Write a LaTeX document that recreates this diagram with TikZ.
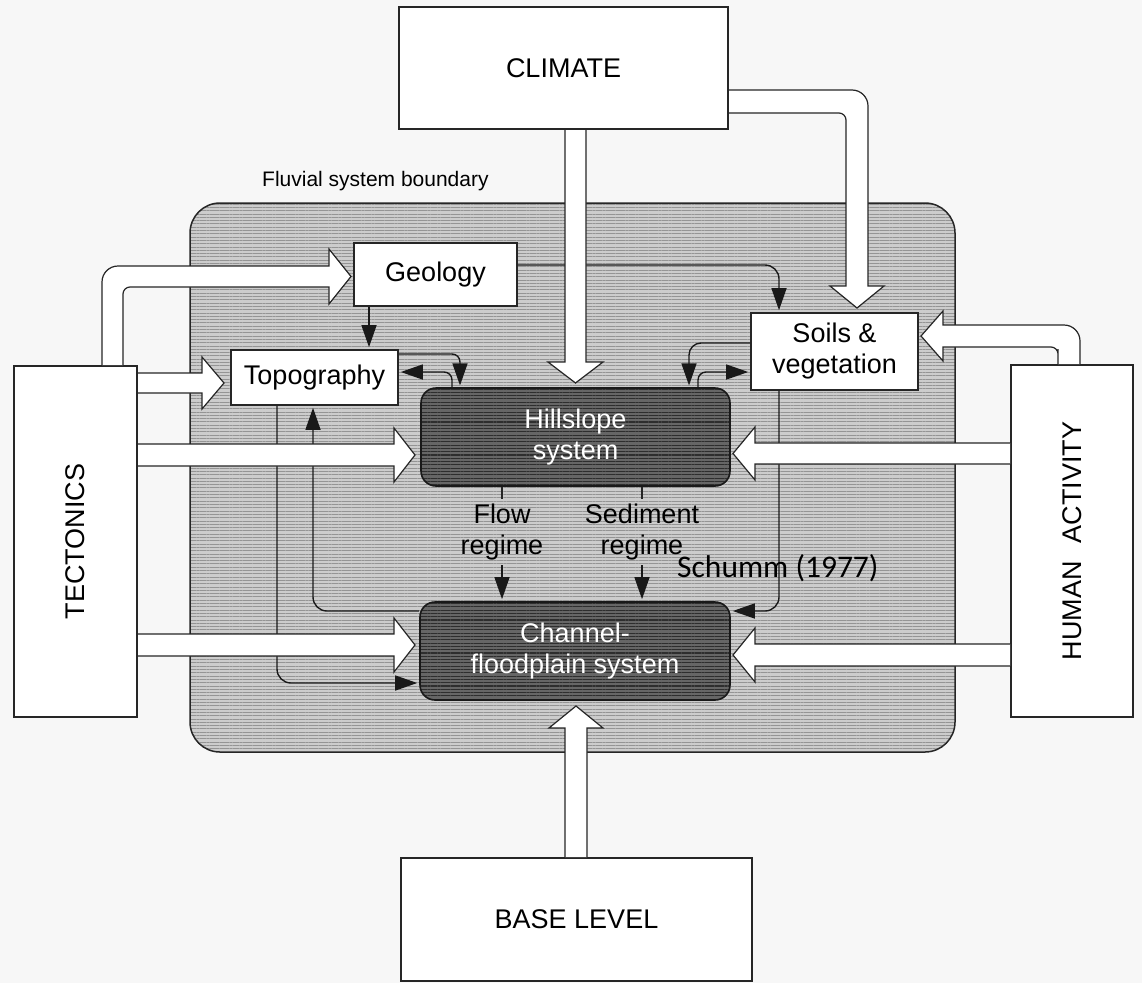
\documentclass[tikz,border=0pt]{standalone}
\usepackage{fontspec}
\setmainfont{Liberation Sans}
\newfontfamily\calibfont{Carlito}
\usetikzlibrary{arrows.meta,patterns.meta}
\begin{document}
\begin{tikzpicture}[x=1pt,y=-1pt,
  lbl/.style={font=\fontsize{27}{31}\selectfont, align=center, inner sep=0pt},
  box/.style={lbl, draw=black!85, line width=1.6pt, fill=white},
  sysbox/.style={lbl, draw=black!90, line width=1.6pt, rounded corners=15pt, text=white,
     preaction={fill=black!60}, pattern={Lines[angle=0,distance=3.3pt,line width=1.1pt]}, pattern color=black!82},
  boundary/.style={draw=black!85, line width=1.5pt, rounded corners=30pt, inner sep=0pt,
     preaction={fill=black!20}, pattern={Lines[angle=0,distance=3.3pt,line width=1pt]}, pattern color=black!42},
  conn/.style={draw=black!90, line width=1.4pt, -{Triangle[length=22pt,width=15pt]}, shorten >=2pt},
  plain/.style={draw=black!85, line width=1.3pt},
  fat/.style={draw=black!85, line width=1.2pt, fill=white, line join=miter},
]
\useasboundingbox (0,0) rectangle (1142,983);
\fill[black!3] (0,0) rectangle (1142,983);

% fluvial system boundary
\node[boundary, minimum width=765pt, minimum height=549pt] (fluv) at (572.5,477.5) {};
\node[lbl, font=\fontsize{21}{25}\selectfont, anchor=west] (fsb) at (262,181) {Fluvial system boundary};

% boxes
\node[box, minimum width=329pt, minimum height=122pt] (climate) at (563.5,68) {CLIMATE};
\node[box, minimum width=163pt, minimum height=63pt] (geo) at (435.5,274.5) {Geology};
\node[box, minimum width=167pt, minimum height=55pt] (topo) at (314.5,377.5) {Topography};
\node[box, minimum width=123pt, minimum height=351pt] (tect) at (75.5,541.5) {};
\node[lbl, rotate=90] (tectlbl) at (tect.center) {TECTONICS};
\node[box, minimum width=167pt, minimum height=77pt] (soils) at (834.5,351.5) {Soils \&\\vegetation};
\node[box, minimum width=122pt, minimum height=352pt] (human) at (1072,541) {};
\node[lbl, rotate=90] (humanlbl) at (human.center) {HUMAN\hspace{18pt}ACTIVITY};
\node[sysbox, minimum width=309pt, minimum height=98pt] (hill) at (575.5,437) {Hillslope\\system};
\node[sysbox, minimum width=310pt, minimum height=98pt] (chan) at (575,651) {Channel-\\floodplain system};
\node[box, minimum width=351pt, minimum height=123pt] (base) at (576.5,919.5) {BASE LEVEL};

% flow / sediment regime
\node[lbl, inner sep=5pt] (flow) at (502,532) {Flow\\regime};
\node[lbl, inner sep=5pt] (sed) at (642,532) {Sediment\\regime};
\draw[plain] (502,0 |- hill.south) -- (flow.north);
\draw[conn] (flow.south) -- (502,0 |- chan.north);
\draw[plain] (642,0 |- hill.south) -- (sed.north);
\draw[conn] (sed.south) -- (642,0 |- chan.north);

% thin connectors
\draw[conn] (369,0 |- geo.south) -- (369,0 |- topo.north);
\draw[conn] {[rounded corners=14pt] (geo.east |- 0,265) -- (779,265) -- (779,0 |- soils.north)};
\draw[conn] {[rounded corners=8pt] (topo.east |- 0,354) -- (460,354) -- (460,0 |- hill.north)};
\draw[conn] {[rounded corners=8pt] (452,0 |- hill.north) -- (452,372) -- (topo.east |- 0,372)};
\draw[conn] {[rounded corners=12pt] (soils.west |- 0,343) -- (689,343) -- (689,0 |- hill.north)};
\draw[conn] {[rounded corners=8pt] (698,0 |- hill.north) -- (698,372) -- (soils.west |- 0,372)};
\draw[conn] {[rounded corners=14pt] (277,0 |- topo.south) -- (277,683) -- (chan.west |- 0,683)};
\draw[conn] {[rounded corners=14pt] (chan.west |- 0,611) -- (313,611) -- (313,0 |- topo.south)};
\draw[conn] {[rounded corners=14pt] (779,0 |- soils.south) -- (779,611) -- (chan.east |- 0,611)};

% wide arrows
% Tectonics -> Geology
\filldraw[fat] (102,365) [rounded corners=16pt] -- (102,266) -- (200,266) [sharp corners] -- (329,266) -- (329,249) -- (351,276.5) -- (329,304) -- (329,287) -- (200,287) [rounded corners=7pt] -- (123,287) -- (123,330) [sharp corners] -- (123,365);
% Tectonics -> Topography
\filldraw[fat] (138,373) -- (202,373) -- (202,357) -- (224,383) -- (202,409) -- (202,393) -- (138,393);
% Tectonics -> Hillslope
\filldraw[fat] (138,444) -- (394,444) -- (394,428) -- (415,455) -- (394,482) -- (394,466) -- (138,466);
% Tectonics -> Channel
\filldraw[fat] (138,634) -- (394,634) -- (394,618) -- (415,645) -- (394,672) -- (394,656) -- (138,656);
% Climate -> Hillslope
\filldraw[fat] (565,130) -- (565,362) -- (548,362) -- (575.5,383) -- (603,362) -- (586,362) -- (586,130);
% Climate -> Soils
\filldraw[fat] (729,90) [rounded corners=16pt] -- (868,90) -- (868,200) [sharp corners] -- (868,286) -- (884,286) -- (857,308) -- (830,286) -- (846,286) -- (846,200) [rounded corners=7pt] -- (846,113) -- (780,113) [sharp corners] -- (729,113);
% Human -> Soils
\filldraw[fat] (1080,364) [rounded corners=16pt] -- (1080,325) -- (1000,325) [sharp corners] -- (943,325) -- (943,311) -- (921,336) -- (943,361) -- (943,347) -- (1000,347) [rounded corners=7pt] -- (1058,347) -- (1058,356) [sharp corners] -- (1058,364);
% Human -> Hillslope
\filldraw[fat] (1010,443) -- (755,443) -- (755,427) -- (733,453.5) -- (755,480) -- (755,464) -- (1010,464);
% Human -> Channel
\filldraw[fat] (1010,644) -- (755,644) -- (755,628) -- (733,655) -- (755,682) -- (755,666) -- (1010,666);
% Base level -> Channel
\filldraw[fat] (565,857) -- (565,728) -- (549,728) -- (576,706) -- (603,728) -- (587,728) -- (587,857);

% citation
\node[font=\calibfont\fontsize{31.5}{36}\selectfont, anchor=west, inner sep=0pt] (schumm) at (677,568) {Schumm (1977)};
\end{tikzpicture}
\end{document}
